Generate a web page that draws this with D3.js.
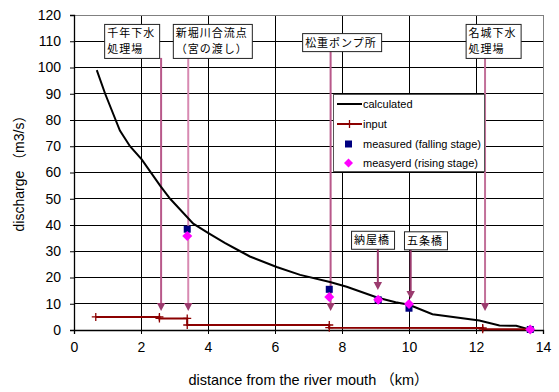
<!DOCTYPE html>
<html>
<head>
<meta charset="utf-8">
<script src="https://cdn.jsdelivr.net/npm/d3@7"></script>
<style>
  html, body { margin: 0; padding: 0; background: #fff; }
  svg { display: block; }
  text { font-family: "Noto Sans CJK JP", "Liberation Sans", sans-serif; fill: #000; }
</style>
</head>
<body>
<svg id="chart" width="559" height="392"></svg>
<script>
// Discharge along the river (km from the mouth, m3/s)
const calcKm  = [0.68, 0.93, 1.37, 1.67, 2.02, 2.57, 2.87, 3.56, 4.0, 4.5, 4.96, 5.25, 6.05, 6.75, 7.64, 8.14, 9.07, 9.6, 10.0, 10.7, 12.1, 12.7, 13.2, 13.64];
const calcQ   = [99, 90, 76, 70, 65, 55, 50, 40.5, 37, 33.2, 30, 28, 24, 21, 18.3, 16.5, 12.3, 10.6, 9.6, 6, 3.6, 1.7, 1.6, 0];

const inputKm = [0.65, 2.55, 2.55, 3.38, 3.38, 7.62, 7.62, 12.2, 12.2, 13.62];
const inputQ  = [5.0, 5.0, 4.4, 4.4, 1.9, 1.9, 0.9, 0.8, 0.3, 0.3];

const fallKm  = [3.38, 7.62, 9.08, 10.0, 13.62];
const fallQ   = [38.4, 15.5, 11.5, 8.3, 0.2];
const riseKm  = [3.38, 7.62, 9.08, 10.0, 13.62];
const riseQ   = [35.8, 12.6, 11.5, 9.9, 0.2];

// Site markers: label lines, arrow position, arrow tip, label box anchor (left km, top value)
const siteLabels = [["千年下水", "処理場"], ["新堀川合流点", "（宮の渡し）"], ["松重ポンプ所"], ["名城下水", "処理場"], ["納屋橋"], ["五条橋"]];
const siteKm     = [2.6, 3.41, 7.66, 12.27, 9.07, 10.05];
const siteTipQ   = [7.2, 7.2, 7.2, 7.2, 15.2, 11.8];
const boxKm      = [0.9, 2.95, 6.81, 11.69, 8.27, 9.85];
const boxTopQ    = [116.6, 116.6, 113.1, 116.6, 37.8, 37.6];

const xTicks = [0, 2, 4, 6, 8, 10, 12, 14];
const yTicks = [0, 10, 20, 30, 40, 50, 60, 70, 80, 90, 100, 110, 120];

const latin = "'Liberation Sans', Arial, 'Noto Sans CJK JP', sans-serif";

const svg = d3.select("#chart");
const m = { left: 74, right: 16, top: 15, bottom: 62 };
const W = 559, H = 392;
const x = d3.scaleLinear().domain([0, 14]).range([m.left, W - m.right]);
const y = d3.scaleLinear().domain([0, 120]).range([H - m.bottom, m.top]);

// plot background and grid
svg.append("rect").attr("x", x(0)).attr("y", y(120))
  .attr("width", x(14) - x(0)).attr("height", y(0) - y(120)).attr("fill", "#fff");

svg.append("g").selectAll("line").data(yTicks.slice(1, -1)).join("line")
  .attr("x1", x(0)).attr("x2", x(14)).attr("y1", d => y(d)).attr("y2", d => y(d))
  .attr("stroke", "#000").attr("stroke-width", 1).attr("shape-rendering", "crispEdges");
svg.append("g").selectAll("line").data(xTicks.slice(1, -1)).join("line")
  .attr("y1", y(0)).attr("y2", y(120)).attr("x1", d => x(d)).attr("x2", d => x(d))
  .attr("stroke", "#000").attr("stroke-width", 1).attr("shape-rendering", "crispEdges");

// outer frame
svg.append("rect").attr("x", x(0)).attr("y", y(120))
  .attr("width", x(14) - x(0)).attr("height", y(0) - y(120))
  .attr("fill", "none").attr("stroke", "#808080").attr("stroke-width", 1)
  .attr("shape-rendering", "crispEdges");

// axes
const xAxis = svg.append("g").attr("transform", `translate(0,${y(0)})`)
  .call(d3.axisBottom(x).tickValues(xTicks).tickSize(4).tickPadding(8).tickFormat(d3.format("d")));
const yAxis = svg.append("g").attr("transform", `translate(${x(0)},0)`)
  .call(d3.axisLeft(y).tickValues(yTicks).tickSize(4).tickPadding(9).tickFormat(d3.format("d")));
[xAxis, yAxis].forEach(g => {
  g.select(".domain").attr("stroke", "#000").attr("stroke-width", 1.3);
  g.selectAll(".tick line").attr("stroke", "#000");
  g.selectAll(".tick text").style("font-size", "14px").style("font-family", latin);
});

// axis titles
svg.append("text").attr("x", (x(0) + x(14)) / 2).attr("y", 385)
  .attr("text-anchor", "middle").style("font-size", "14.5px").style("font-family", latin)
  .text("distance from the river mouth （km）");
svg.append("text").attr("transform", "translate(24,170) rotate(-90)")
  .attr("text-anchor", "middle").style("font-size", "14px").style("font-family", latin)
  .text("discharge （m3/s）");

// site annotations: vertical lines with arrowheads and label boxes
const lineCol = ["#b8588a", "#d88ab2", "#b8588a", "#c27099", "#9b3b6e", "#9b3b6e"];
const headCol = "#9b3b6e";
const fs = 11, lh = 16;
siteLabels.forEach((lab, i) => {
  const g = svg.append("g");
  const lines = lab.length;
  const maxChars = d3.max(lab, s => s.length);
  const bw = maxChars * 12 + 7;
  const bh = lines === 2 ? 34 : 18;
  const bx = x(boxKm[i]), by = y(boxTopQ[i]);
  const ax = x(siteKm[i]), tip = y(siteTipQ[i]);
  g.append("line").attr("x1", ax).attr("x2", ax).attr("y1", by + bh).attr("y2", tip - 6)
    .attr("stroke", lineCol[i]).attr("stroke-width", 2);
  g.append("path")
    .attr("d", `M${ax - 4.2},${tip - 8} L${ax + 4.2},${tip - 8} L${ax},${tip} Z`)
    .attr("fill", headCol);
  g.append("rect").attr("x", bx + 0.5).attr("y", by + 0.5).attr("width", bw).attr("height", bh)
    .attr("fill", "#fff").attr("stroke", "#222").attr("stroke-width", 1);
  lab.forEach((s, j) => {
    g.append("text").attr("x", bx + 3).attr("y", by + 13.5 + j * lh)
      .style("font-size", fs + "px").style("letter-spacing", "1px").text(s);
  });
});

// calculated discharge
const calc = calcKm.map((k, i) => [k, calcQ[i]]);
svg.append("path").datum(calc)
  .attr("d", d3.line().x(d => x(d[0])).y(d => y(d[1])))
  .attr("fill", "none").attr("stroke", "#000").attr("stroke-width", 2);

// input discharge with cross markers
const inp = inputKm.map((k, i) => [k, inputQ[i]]);
const red = "#8b0000";
svg.append("path").datum(inp)
  .attr("d", d3.line().x(d => x(d[0])).y(d => y(d[1])))
  .attr("fill", "none").attr("stroke", red).attr("stroke-width", 2);
svg.append("g").selectAll("path").data(inp).join("path")
  .attr("d", d => `M${x(d[0]) - 4},${y(d[1])} h8 M${x(d[0])},${y(d[1]) - 4} v8`)
  .attr("stroke", red).attr("stroke-width", 1.3);

// measured points
const sq = 7;
svg.append("g").selectAll("rect").data(fallKm.map((k, i) => [k, fallQ[i]])).join("rect")
  .attr("x", d => x(d[0]) - sq / 2).attr("y", d => y(d[1]) - sq / 2)
  .attr("width", sq).attr("height", sq).attr("fill", "#000080");
svg.append("g").selectAll("path").data(riseKm.map((k, i) => [k, riseQ[i]])).join("path")
  .attr("d", d => `M${x(d[0])},${y(d[1]) - 5} l5,5 l-5,5 l-5,-5 Z`)
  .attr("fill", "#ff00ff");

// legend
const lg = svg.append("g").attr("transform", "translate(333,94)");
lg.append("rect").attr("x", 0.5).attr("y", 0.5).attr("width", 151).attr("height", 77)
  .attr("fill", "#fff").attr("stroke", "#555").attr("stroke-width", 1);
const rows = [10, 30, 50, 69];
lg.append("line").attr("x1", 4).attr("x2", 29).attr("y1", rows[0]).attr("y2", rows[0])
  .attr("stroke", "#000").attr("stroke-width", 2);
lg.append("line").attr("x1", 4).attr("x2", 29).attr("y1", rows[1]).attr("y2", rows[1])
  .attr("stroke", red).attr("stroke-width", 2);
lg.append("path").attr("d", `M16.5,${rows[1] - 4} v8`).attr("stroke", red).attr("stroke-width", 1.3);
lg.append("rect").attr("x", 12).attr("y", rows[2] - 3.5).attr("width", 7).attr("height", 7).attr("fill", "#000080");
lg.append("path").attr("d", `M15.5,${rows[3] - 4.5} l4.5,4.5 l-4.5,4.5 l-4.5,-4.5 Z`).attr("fill", "#ff00ff");
const legTexts = ["calculated", "input", "measured (falling stage)", "measyerd (rising stage)"];
legTexts.forEach((t, i) => {
  lg.append("text").attr("x", 30).attr("y", rows[i] + 4)
    .style("font-size", "11px").style("font-family", latin).text(t);
});
</script>
</body>
</html>
